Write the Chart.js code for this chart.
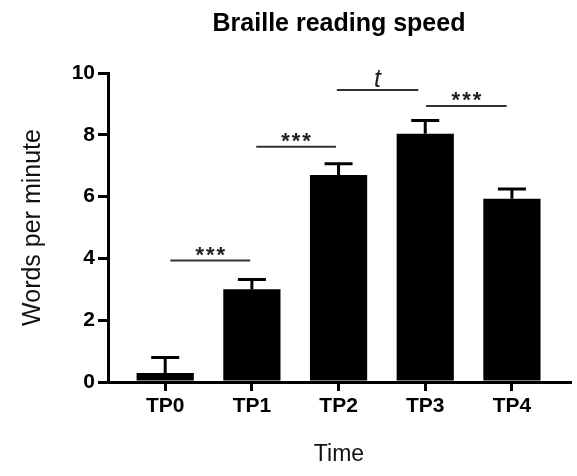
<!DOCTYPE html>
<html><head><meta charset="utf-8">
<script src="https://cdn.jsdelivr.net/npm/chart.js@4"></script>
<style>html,body{margin:0;padding:0;background:#fff}</style>
</head><body>
<canvas id="c" width="577" height="476"></canvas>
<script>
const categories = ['TP0', 'TP1', 'TP2', 'TP3', 'TP4'];
const means = [0.29, 3.00, 6.70, 8.03, 5.93];
const errors = [0.50, 0.32, 0.36, 0.43, 0.32];
const yTicks = [0, 2, 4, 6, 8, 10];
const sigFrom = [0.06, 1.05, 1.98, 3.01];
const sigTo = [0.98, 1.97, 2.92, 3.94];
const sigLevel = [3.93, 7.61, 9.45, 8.93];
const sigLabels = ['***', '***', 't', '***'];

const FONT = "'Liberation Sans', Arial, Helvetica, sans-serif";
Chart.defaults.font.family = FONT;
Chart.defaults.color = '#000';

const errorBars = {
  id: 'errorBars',
  afterDatasetsDraw(chart) {
    const meta = chart.getDatasetMeta(0);
    const ys = chart.scales.y;
    const ctx = chart.ctx;
    ctx.save();
    ctx.strokeStyle = '#000';
    ctx.lineWidth = 3;
    meta.data.forEach((bar, i) => {
      const top = ys.getPixelForValue(means[i] + errors[i]);
      ctx.beginPath();
      ctx.moveTo(bar.x, bar.y);
      ctx.lineTo(bar.x, top);
      ctx.moveTo(bar.x - 14, top);
      ctx.lineTo(bar.x + 14, top);
      ctx.stroke();
    });
    ctx.restore();
  }
};

const sigText = {
  id: 'sigText',
  afterDatasetsDraw(chart) {
    const {ctx, scales: {x, y}} = chart;
    sigLabels.forEach((lab, i) => {
      const cx = x.getPixelForValue((sigFrom[i] + sigTo[i]) / 2);
      const cy = y.getPixelForValue(sigLevel[i]);
      ctx.save();
      ctx.fillStyle = '#222';
      ctx.textAlign = 'center';
      ctx.textBaseline = 'alphabetic';
      if (lab === 't') {
        ctx.font = 'italic 25px ' + FONT;
        ctx.fillText(lab, cx, cy - 3);
      } else {
        ctx.font = 'bold 22px ' + FONT;
        try { ctx.letterSpacing = '2px'; } catch (e) {}
        ctx.fillText(lab, cx + 1, cy + 1);
      }
      ctx.restore();
    });
  }
};

const datasets = [{
  type: 'bar',
  data: categories.map((c, i) => ({x: i, y: means[i]})),
  backgroundColor: '#000',
  borderWidth: 0,
  barPercentage: 0.66,
  categoryPercentage: 1.0,
  order: 2
}];
sigLabels.forEach((lab, i) => {
  datasets.push({
    type: 'line',
    data: [{x: sigFrom[i], y: sigLevel[i]}, {x: sigTo[i], y: sigLevel[i]}],
    borderColor: '#333',
    borderWidth: 2,
    pointRadius: 0,
    fill: false,
    order: 1
  });
});

new Chart(document.getElementById('c'), {
  type: 'bar',
  data: { datasets },
  options: {
    responsive: false,
    animation: false,
    layout: { padding: { left: 0, right: 7, top: 0, bottom: 0 } },
    plugins: {
      legend: { display: false },
      tooltip: { enabled: false },
      title: {
        display: true,
        text: 'Braille reading speed',
        fullSize: false,
        color: '#000',
        font: { size: 25, weight: 'bold' },
        padding: { top: 9, bottom: 34 }
      }
    },
    scales: {
      x: {
        type: 'linear',
        min: -0.66,
        max: 4.67,
        offset: false,
        afterBuildTicks: s => { s.ticks = categories.map((_, i) => ({value: i})); },
        afterFit: s => { s.height = 94; },
        ticks: {
          callback: v => categories[v],
          font: { size: 21, weight: 'bold' },
          color: '#000',
          padding: 3,
          autoSkip: false,
          maxRotation: 0
        },
        grid: { drawOnChartArea: false, offset: false, tickLength: 9, lineWidth: 3, color: '#000' },
        border: { display: true, width: 3, color: '#000' },
        title: { display: true, text: 'Time', font: { size: 23 }, color: '#111', padding: { top: 8, bottom: 8 } }
      },
      y: {
        min: 0,
        max: 10,
        afterBuildTicks: s => { s.ticks = yTicks.map(v => ({value: v})); },
        afterFit: s => { s.width = 108; },
        ticks: { font: { size: 21, weight: 'bold' }, color: '#000', padding: 3 },
        grid: { drawOnChartArea: false, tickLength: 10, lineWidth: 3, color: '#000' },
        border: { display: true, width: 3, color: '#000' },
        title: { display: true, text: 'Words per minute', font: { size: 25 }, color: '#111', padding: { top: 18, bottom: 18 } }
      }
    }
  },
  plugins: [errorBars, sigText]
});
</script>
</body></html>
